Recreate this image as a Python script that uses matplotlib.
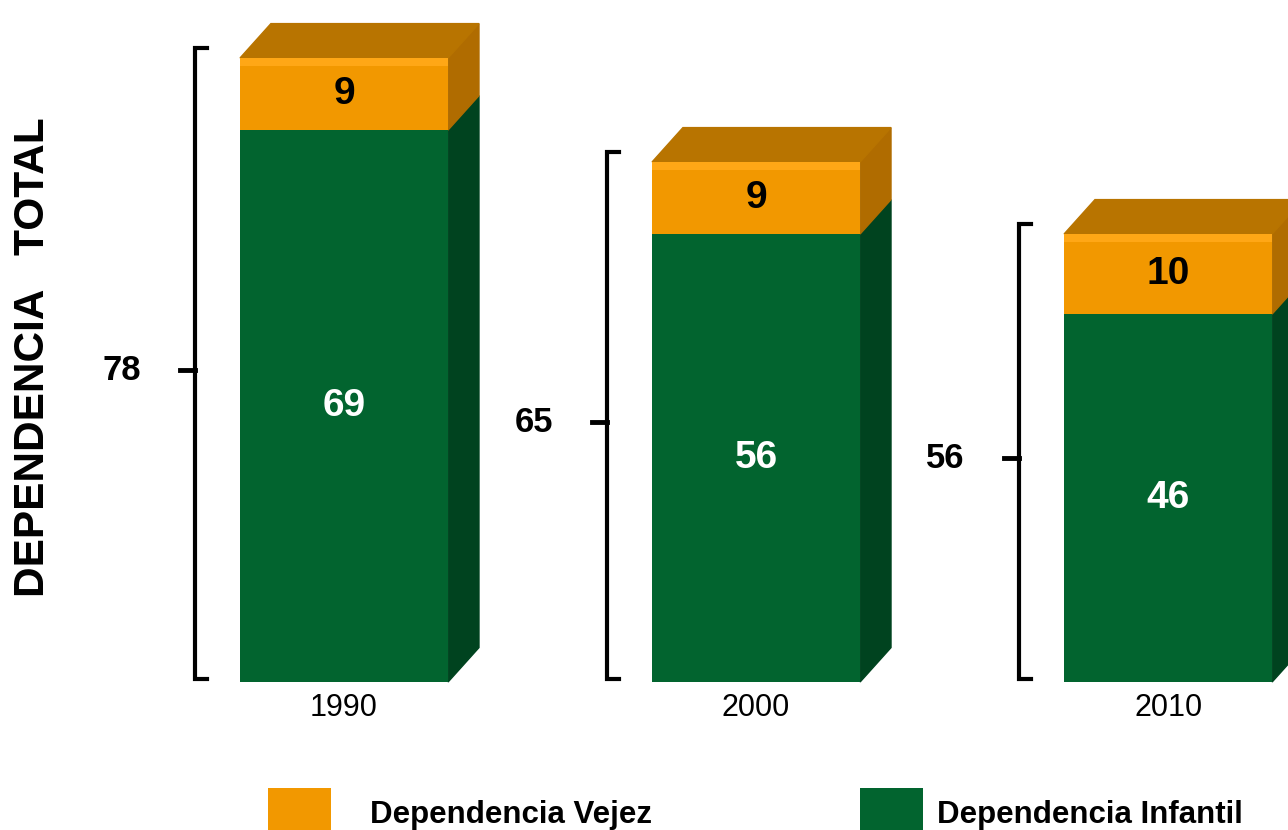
import matplotlib
matplotlib.use("Agg")
import matplotlib.pyplot as plt
from matplotlib.patches import Polygon, Patch

# datos
years = ["1990", "2000", "2010"]
infantil = [69, 56, 46]
vejez = [9, 9, 10]
total = [78, 65, 56]

plt.rcParams['font.family'] = ['Liberation Sans', 'DejaVu Sans']

GREEN = "#02642f"
GREEN_SIDE = "#00431f"
ORANGE = "#f29800"
ORANGE_SIDE = "#b06c00"
ORANGE_TOP = "#b87400"

fig = plt.figure(figsize=(12.88, 8.30), dpi=100)
ax = fig.add_axes([0, 0, 1, 1])
ax.set_xlim(-0.835, 2.291)
ax.set_ylim(-18.5, 85.25)
ax.axis('off')

w = 0.505      # ancho de la barra
dx = 0.075     # profundidad 3D (x)
dy = 4.3       # profundidad 3D (y)
x = list(range(len(years)))

ax.bar(x, infantil, width=w, color=GREEN, zorder=3)
ax.bar(x, vejez, width=w, bottom=infantil, color=ORANGE, zorder=3)

for i in x:
    r = i + w / 2
    l = i - w / 2
    g = infantil[i]
    t = total[i]
    # caras laterales
    ax.add_patch(Polygon([(r, 0), (r + dx, dy), (r + dx, g + dy), (r, g)],
                         closed=True, color=GREEN_SIDE, zorder=2))
    ax.add_patch(Polygon([(r, g), (r + dx, g + dy), (r + dx, t + dy), (r, t)],
                         closed=True, color=ORANGE_SIDE, zorder=2))
    # cara superior
    ax.add_patch(Polygon([(l, t), (l + dx, t + dy), (r + dx, t + dy), (r, t)],
                         closed=True, color=ORANGE_TOP, zorder=2))
    # brillo arriba de la cara frontal
    ax.fill_between([l, r], t - 1.0, t, color="#ffa716", lw=0, zorder=4)

    ax.text(i, g / 2, str(g), ha='center', va='center', color='white',
            fontsize=28, fontweight='bold', zorder=5)
    ax.text(i, g + vejez[i] / 2, str(vejez[i]), ha='center', va='center',
            color='black', fontsize=28, fontweight='bold', zorder=5)
    ax.text(i, -3.3, years[i], ha='center', va='center', fontsize=22)

    # corchete con el total
    bx = i - 0.362
    ax.plot([bx + 0.03, bx, bx, bx + 0.03], [t + 1.2, t + 1.2, 0.4, 0.4],
            color='black', lw=3, solid_joinstyle='miter', zorder=3)
    ax.plot([bx - 0.036, bx], [t / 2, t / 2], color='black', lw=3.5, zorder=3)
    ax.text(i - 0.54, t / 2, str(t), ha='center', va='center',
            fontsize=25, fontweight='bold')

fig.text(33 / 1288, 1 - 357 / 830, "DEPENDENCIA   TOTAL", rotation=90,
         ha='center', va='center', fontsize=30.5, fontweight='bold')

leg_font = {'weight': 'bold', 'size': 22.5}
fig.legend([Patch(facecolor=ORANGE, edgecolor='none')],
           ["Dependencia Vejez"], loc='center left',
           bbox_to_anchor=(240 / 1288, 1 - 813 / 830), frameon=False,
           handlelength=2.0, handleheight=2.1, handletextpad=1.25,
           prop=leg_font)
fig.legend([Patch(facecolor=GREEN, edgecolor='none')],
           ["Dependencia Infantil"], loc='center left',
           bbox_to_anchor=(832 / 1288, 1 - 813 / 830), frameon=False,
           handlelength=2.0, handleheight=2.1, handletextpad=0.45,
           prop=leg_font)

fig.savefig("out.png", dpi=100)
